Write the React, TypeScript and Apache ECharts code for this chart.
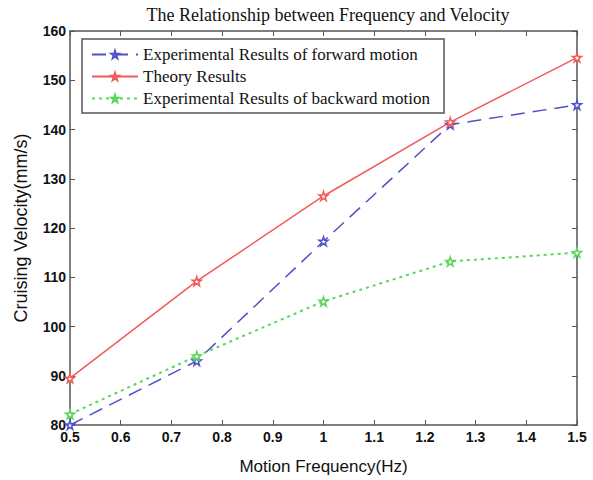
import React, { useEffect, useRef } from "react";
import * as echarts from "echarts";

const frequencies = [0.5, 0.75, 1.0, 1.25, 1.5];
const forwardValues = [80, 93, 117.3, 141, 145];
const theoryValues = [89.5, 109.2, 126.5, 141.5, 154.6];
const backwardValues = [82.2, 94, 105.1, 113.2, 115];
const seriesNames = [
  "Experimental Results of forward motion",
  "Theory Results",
  "Experimental Results of backward motion",
];

const STAR =
  "path://M50,0 L61,35 L98,35 L68,57 L79,91 L50,70 L21,91 L32,57 L2,35 L39,35 Z";

export default function App() {
  const ref = useRef<HTMLDivElement>(null);
  useEffect(() => {
    if (!ref.current) return;
    const chart = echarts.init(ref.current, null, { renderer: "svg" });
    const mk = (name: string, vals: number[], color: string, type: any, width: number) => ({
      name,
      type: "line",
      data: frequencies.map((f, i) => [f, vals[i]]),
      symbol: STAR,
      symbolSize: 9,
      showSymbol: true,
      lineStyle: { color, width, type },
      itemStyle: { color: "#ffffff", borderColor: color, borderWidth: 1.5 },
      emphasis: { disabled: true },
    });
    const tickLabel = { fontFamily: "Liberation Sans, Arial, sans-serif", fontSize: 14, color: "#111", fontWeight: "bold" as const };
    chart.setOption({
      animation: false,
      backgroundColor: "#fff",
      title: {
        text: "The Relationship between Frequency and Velocity",
        left: 323,
        textAlign: "center",
        top: 1,
        textStyle: { fontFamily: "Liberation Serif, Times New Roman, serif", fontSize: 18, fontWeight: "normal", color: "#111" },
      },
      legend: {
        orient: "vertical",
        left: 82,
        top: 39,
        itemGap: 5,
        itemWidth: 46,
        itemHeight: 9,
        padding: [7, 14, 6, 9],
        borderColor: "#555",
        borderWidth: 1.5,
        backgroundColor: "#fff",
        data: seriesNames,
        textStyle: { fontFamily: "Liberation Serif, Times New Roman, serif", fontSize: 17, color: "#111" },
      },
      grid: { left: 70, right: 16, top: 31, bottom: 51 },
      xAxis: [
        {
          type: "value",
          min: 0.5,
          max: 1.5,
          interval: 0.1,
          name: "Motion Frequency(Hz)",
          nameLocation: "middle",
          nameGap: 33,
          nameTextStyle: { fontFamily: "Liberation Sans, Arial, sans-serif", fontSize: 17, color: "#111" },
          axisLine: { lineStyle: { color: "#555", width: 1.5 } },
          axisTick: { inside: true, length: 5, lineStyle: { color: "#555" } },
          axisLabel: { ...tickLabel, margin: 5, formatter: (v: number) => String(Math.round(v * 10) / 10) },
          splitLine: { show: false },
        },
        {
          type: "value",
          position: "top",
          min: 0.5,
          max: 1.5,
          interval: 0.1,
          axisLine: { show: true, lineStyle: { color: "#555", width: 1.5 } },
          axisTick: { inside: true, length: 5, lineStyle: { color: "#555" } },
          axisLabel: { show: false },
          splitLine: { show: false },
        },
      ],
      yAxis: [
        {
          type: "value",
          min: 80,
          max: 160,
          interval: 10,
          name: "Cruising Velocity(mm/s)",
          nameLocation: "middle",
          nameGap: 40,
          nameTextStyle: { fontFamily: "Liberation Sans, Arial, sans-serif", fontSize: 18, color: "#111" },
          axisLine: { show: true, lineStyle: { color: "#555", width: 1.5 } },
          axisTick: { show: true, inside: true, length: 5, lineStyle: { color: "#555" } },
          axisLabel: { ...tickLabel, margin: 4 },
          splitLine: { show: false },
        },
        {
          type: "value",
          position: "right",
          min: 80,
          max: 160,
          interval: 10,
          axisLine: { show: true, lineStyle: { color: "#555", width: 1.5 } },
          axisTick: { show: true, inside: true, length: 5, lineStyle: { color: "#555" } },
          axisLabel: { show: false },
          splitLine: { show: false },
        },
      ],
      series: [
        mk(seriesNames[0], forwardValues, "#5050c8", [14, 8], 1.5),
        mk(seriesNames[1], theoryValues, "#f25a5a", "solid", 1.5),
        mk(seriesNames[2], backwardValues, "#5ad65a", [3, 4], 2),
      ],
    });
    return () => chart.dispose();
  }, []);
  return <div ref={ref} style={{ width: 593, height: 480, position: "absolute", left: 0, top: 0 }} />;
}
